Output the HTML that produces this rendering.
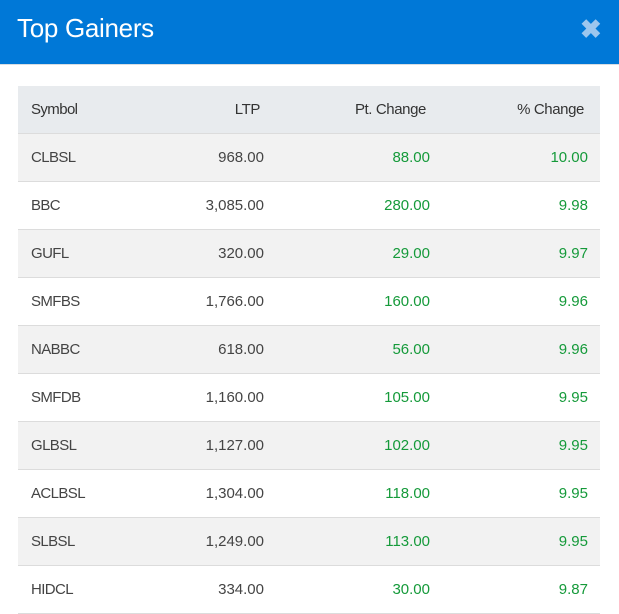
<!DOCTYPE html>
<html><head><style>
body{margin:0;width:619px;height:607px;overflow:hidden;background:#fff;font-family:"Liberation Sans",sans-serif;}
.hd{position:absolute;left:0;top:0;width:619px;height:64px;background:#0078d7;border-bottom:1px solid #d8dde2;}
.hd .t{position:absolute;left:17px;top:13px;color:#fff;font-size:26px;letter-spacing:-0.3px;}
.hd .x{position:absolute;left:580px;top:14px;color:#9cc6ee;font-size:26px;font-weight:bold;}
.r{position:absolute;left:18px;width:582px;height:47px;border-bottom:1px solid #dcdcdc;font-size:15px;line-height:47px;color:#444;}
.r span{position:absolute;top:0;white-space:nowrap;}
.r .s{left:13px;letter-spacing:-0.6px;}
.r .l{right:336px;}
.r .p{right:170px;color:#159a3a;}
.r .c{right:12px;color:#159a3a;}
.h{background:#e8ebee;color:#333;letter-spacing:-0.4px;}
.h .l{right:340px}.h .p{right:174px;color:#333}.h .c{right:16px;color:#333}
.o{background:#f2f2f2;}
</style></head><body>
<div class="hd"><div class="t">Top Gainers</div><div class="x">✖</div></div>
<div class="r h" style="top:86px"><span class="s">Symbol</span><span class="l">LTP</span><span class="p">Pt. Change</span><span class="c">% Change</span></div>
<div class="r o" style="top:134px"><span class="s">CLBSL</span><span class="l">968.00</span><span class="p">88.00</span><span class="c">10.00</span></div>
<div class="r" style="top:182px"><span class="s">BBC</span><span class="l">3,085.00</span><span class="p">280.00</span><span class="c">9.98</span></div>
<div class="r o" style="top:230px"><span class="s">GUFL</span><span class="l">320.00</span><span class="p">29.00</span><span class="c">9.97</span></div>
<div class="r" style="top:278px"><span class="s">SMFBS</span><span class="l">1,766.00</span><span class="p">160.00</span><span class="c">9.96</span></div>
<div class="r o" style="top:326px"><span class="s">NABBC</span><span class="l">618.00</span><span class="p">56.00</span><span class="c">9.96</span></div>
<div class="r" style="top:374px"><span class="s">SMFDB</span><span class="l">1,160.00</span><span class="p">105.00</span><span class="c">9.95</span></div>
<div class="r o" style="top:422px"><span class="s">GLBSL</span><span class="l">1,127.00</span><span class="p">102.00</span><span class="c">9.95</span></div>
<div class="r" style="top:470px"><span class="s">ACLBSL</span><span class="l">1,304.00</span><span class="p">118.00</span><span class="c">9.95</span></div>
<div class="r o" style="top:518px"><span class="s">SLBSL</span><span class="l">1,249.00</span><span class="p">113.00</span><span class="c">9.95</span></div>
<div class="r" style="top:566px"><span class="s">HIDCL</span><span class="l">334.00</span><span class="p">30.00</span><span class="c">9.87</span></div>
</body></html>
